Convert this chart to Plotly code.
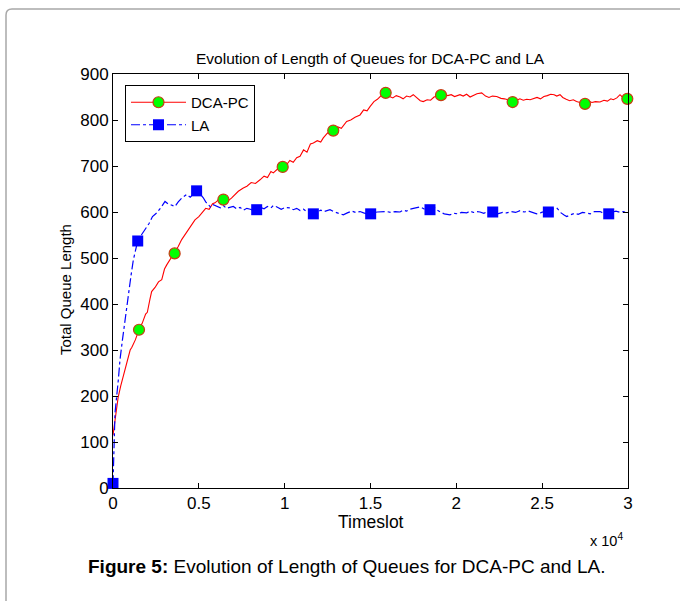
import plotly.graph_objects as go

# ---------------- data ----------------
dca_x = [0, 150, 300, 450, 600, 800, 1000, 1100, 1300, 1515, 1700, 1900, 2000, 2150, 2250, 2450, 2650, 2840,
         3000, 3130, 3350, 3570, 3800, 4000, 4195, 4400, 4600, 4775, 5000, 5170, 5400, 5600, 5800, 5940,
         6200, 6430, 6700, 6900, 7010, 7300, 7590, 7800, 8050, 8300, 8565, 8800, 9000, 9200, 9340, 9600,
         9885, 10100, 10300, 10500, 10700, 10895, 11100, 11300, 11500, 11670, 11900, 12100, 12250, 12500,
         12700, 12830, 13100, 13300, 13610, 13850, 14100, 14390, 14600, 14800, 14970, 15200, 15400, 15550,
         15700, 15885, 16050, 16300, 16500, 16720, 16900, 17100, 17300, 17490, 17700, 17900, 18075, 18300,
         18500, 18700, 18900, 19107, 19300, 19500, 19700, 19900, 20213, 20400, 20600, 20800, 21000, 21200,
         21477, 21700, 21900, 22100, 22350, 22600, 22800, 23000, 23280, 23500, 23700, 23900, 24100, 24300,
         24485, 24700, 24900, 25100, 25300, 25500, 25700, 25850, 26040, 26200, 26400, 26600, 26815, 27000,
         27200, 27495, 27700, 27900, 28100, 28370, 28600, 28800, 29000, 29145, 29350, 29534, 29700, 29850,
         30000]
dca_y = [115, 160, 197, 222, 243, 268, 300, 306, 322, 344, 358, 378, 382, 410, 427, 436, 448, 453,
         476, 485, 498, 511, 525, 540, 551, 560, 574, 583, 590, 598, 608, 606, 618, 620,
         628, 627, 624, 630, 634, 645, 652, 656, 664, 662, 670, 678, 675, 688, 685, 694,
         698, 702, 712, 708, 718, 721, 735, 730, 748, 750, 755, 752, 761, 772,
         770, 777, 785, 782, 797, 800, 806, 811, 822, 820, 829, 840, 845, 851,
         856, 859, 852, 848, 853, 850, 846, 852, 850, 855, 848, 842, 840, 844,
         843, 850, 852, 854, 856, 853, 855, 851, 855, 852, 856, 850, 853, 857,
         859, 852, 849, 852, 851, 847, 846, 844, 839, 843, 846, 843, 845, 844,
         846, 849, 846, 851, 853, 856, 855, 852, 855, 849, 845, 842, 844, 840,
         838, 835, 841, 838, 840, 839, 843, 841, 846, 844, 848, 855, 849, 845,
         848]

la_x = [0, 60, 117, 310, 408, 550, 700, 890, 1050, 1185, 1300, 1440, 1650, 1864, 2100, 2300, 2545, 2800,
        3030, 3200, 3400, 3610, 3800, 4000, 4290, 4500, 4700, 4870, 5050, 5260, 5400, 5550, 5700, 5845,
        6050, 6250, 6430, 6600, 6800, 7010, 7200, 7400, 7600, 7800, 8000, 8200, 8370, 8600, 8800, 9000,
        9200, 9340, 9550, 9800, 10050, 10310, 10500, 10700, 10900, 11100, 11300, 11500, 11670, 11900,
        12100, 12300, 12640, 12900, 13150, 13415, 13650, 13900, 14150, 14390, 14600, 14800, 15010, 15200,
        15400, 15550, 15800, 15940, 16200, 16450, 16720, 16900, 17100, 17300, 17500, 17690, 17900, 18100,
        18300, 18466, 18700, 18900, 19100, 19300, 19630, 19850, 20100, 20300, 20600, 20800, 21000, 21200,
        21380, 21600, 21800, 22120, 22400, 22700, 22935, 23200, 23450, 23710, 23950, 24200, 24450, 24680,
        24900, 25100, 25360, 25600, 25845, 26100, 26300, 26430, 26650, 26900, 27100, 27350, 27595, 27800,
        28050, 28370, 28600, 28877, 29100, 29300, 29550, 29750, 29910, 30000]
la_y = [8, 110, 163, 235, 279, 322, 366, 424, 462, 496, 515, 537, 550, 562, 575, 590, 598, 610,
        623, 618, 615, 612, 622, 630, 638, 632, 640, 646, 640, 631, 622, 616, 610, 616,
        612, 609, 614, 608, 610, 612, 607, 610, 604, 608, 606, 603, 605, 610, 607, 612,
        609, 614, 611, 606, 610, 609, 605, 608, 603, 606, 600, 598, 596, 600,
        604, 601, 605, 600, 597, 594, 598, 602, 599, 601, 598, 596, 596, 599,
        600, 600, 601, 601, 599, 601, 600, 604, 602, 606, 608, 609, 611, 607,
        603, 605, 610, 604, 599, 596, 594, 597, 596, 599, 598, 602, 599, 601,
        600, 597, 601, 600, 596, 599, 598, 601, 599, 603, 600, 602, 598, 596,
        598, 601, 600, 606, 609, 598, 593, 590, 594, 597, 595, 599, 598, 596,
        601, 601, 597, 596, 600, 602, 599, 601, 598, 598]

dca_marker_x = [1515, 3590, 6430, 9885, 12830, 15885, 19107, 23280, 27495, 29960]
dca_marker_y = [344, 510, 627, 698, 777, 859, 854, 839, 835, 846]
la_marker_x = [0, 1440, 4870, 8370, 11670, 15010, 18466, 22120, 25360, 28877]
la_marker_y = [10, 537, 646, 605, 596, 596, 605, 600, 600, 596]

x_tick_vals = [0, 5000, 10000, 15000, 20000, 25000, 30000]
x_tick_text = ["0", "0.5", "1", "1.5", "2", "2.5", "3"]
y_tick_vals = [0, 100, 200, 300, 400, 500, 600, 700, 800, 900]

series_names = ["DCA-PC", "LA"]
title_text = "Evolution of Length of Queues for DCA-PC and LA"
caption_text = "<b>Figure 5:</b> Evolution of Length of Queues for DCA-PC and LA."

# ---------------- styles / layout helpers ----------------
FONT = "Arial, 'Liberation Sans', sans-serif"
L, R, T, B = 113, 628, 74, 488
W, H = 680, 601


def px(xp):
    return (xp - L) / (R - L)


def py(yp):
    return (B - yp) / (B - T)


red = "#ff0000"
blue = "#0000ff"
green = "#00ff00"
edge = "#c83c14"

fig = go.Figure()

fig.add_trace(go.Scatter(x=dca_x, y=dca_y, mode="lines", line=dict(color=red, width=1.1),
                         showlegend=False, hoverinfo="skip"))
fig.add_trace(go.Scatter(x=la_x, y=la_y, mode="lines", line=dict(color=blue, width=1.2, dash="dashdot"),
                         showlegend=False, hoverinfo="skip"))
fig.add_trace(go.Scatter(x=dca_marker_x, y=dca_marker_y, mode="markers", cliponaxis=False,
                         marker=dict(symbol="circle", size=11, color=green, line=dict(color=edge, width=1.2)),
                         showlegend=False))
fig.add_trace(go.Scatter(x=la_marker_x, y=la_marker_y, mode="markers", cliponaxis=False,
                         marker=dict(symbol="square", size=11, color=blue, line=dict(color=blue, width=0)),
                         showlegend=False))
# legend entries
fig.add_trace(go.Scatter(x=[None], y=[None], mode="lines+markers", name=series_names[0],
                         line=dict(color=red, width=1.1),
                         marker=dict(symbol="circle", size=11, color=green, line=dict(color=edge, width=1.2))))
fig.add_trace(go.Scatter(x=[None], y=[None], mode="lines+markers", name=series_names[1],
                         line=dict(color=blue, width=1.2, dash="dashdot"),
                         marker=dict(symbol="square", size=11, color=blue)))

axis_common = dict(showline=True, linecolor="black", linewidth=1, mirror="ticks", ticks="inside",
                   ticklen=5, tickcolor="black", showgrid=False, zeroline=False,
                   tickfont=dict(family=FONT, size=17, color="black"))

fig.update_layout(
    width=W, height=H,
    margin=dict(l=L, r=W - R, t=T, b=H - B, pad=0),
    paper_bgcolor="white", plot_bgcolor="white",
    font=dict(family=FONT, color="black"),
    xaxis=dict(range=[0, 30000], tickvals=x_tick_vals, ticktext=x_tick_text, **axis_common),
    yaxis=dict(range=[0, 900], tickvals=y_tick_vals, **axis_common),
    legend=dict(x=px(125), y=py(85), xanchor="left", yanchor="top", bgcolor="white",
                bordercolor="black", borderwidth=1, font=dict(family=FONT, size=15, color="black"),
                tracegroupgap=0, itemwidth=55),
    annotations=[
        dict(text=title_text, x=0.5, y=py(58), xref="paper", yref="paper", showarrow=False,
             font=dict(family=FONT, size=15.5, color="black"), xanchor="center", yanchor="middle"),
        dict(text="Timeslot", x=0.5, y=py(522), xref="paper", yref="paper", showarrow=False,
             font=dict(family=FONT, size=17.5, color="black"), xanchor="center", yanchor="middle"),
        dict(text="Total Queue Length", x=px(65), y=py(290), xref="paper", yref="paper", showarrow=False,
             textangle=-90, font=dict(family=FONT, size=15, color="black"),
             xanchor="center", yanchor="middle"),
        dict(text="x 10<sup>4</sup>", x=px(606), y=py(540), xref="paper", yref="paper", showarrow=False,
             font=dict(family=FONT, size=14.5, color="black"), xanchor="center", yanchor="middle"),
        dict(text=caption_text, x=px(347), y=py(566), xref="paper", yref="paper", showarrow=False,
             font=dict(family=FONT, size=19, color="black"), xanchor="center", yanchor="middle"),
    ],
    shapes=[
        dict(type="path", xref="paper", yref="paper",
             path=f"M {px(6)},{py(640)} L {px(6)},{py(15)} Q {px(6)},{py(9)} {px(12)},{py(9)} L {px(700)},{py(9)}",
             line=dict(color="#a8a8a8", width=1.5), layer="below"),
    ],
)

fig.write_html("out.html", config={"displayModeBar": False},
               post_script="document.body.style.margin='0px';document.body.style.overflow='hidden';")
